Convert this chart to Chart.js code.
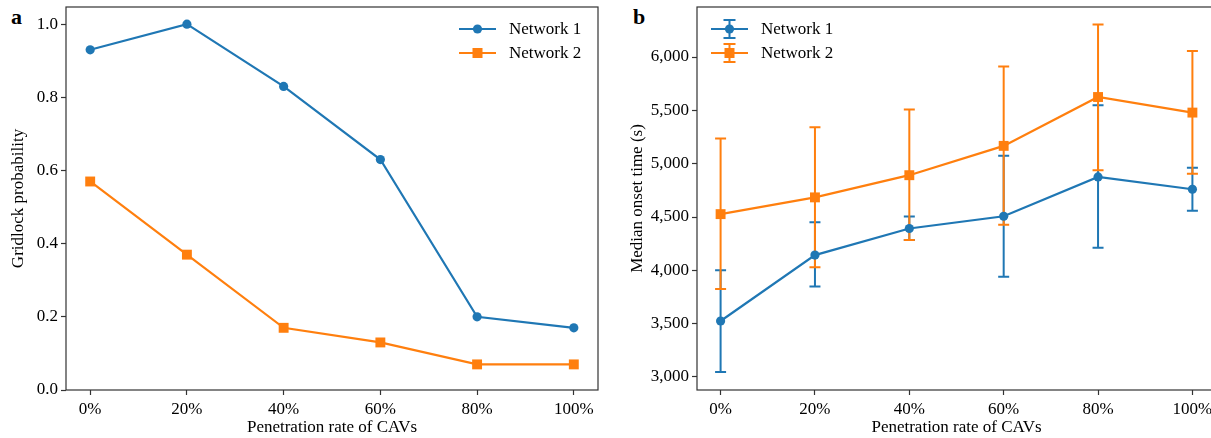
<!DOCTYPE html>
<html>
<head>
<meta charset="utf-8">
<script src="https://cdn.jsdelivr.net/npm/chart.js@4.4.0/dist/chart.umd.min.js"></script>
<style>
html, body { margin: 0; padding: 0; background: #fff; overflow: hidden; width: 1211px; height: 438px; }
.painel { position: absolute; top: 0; height: 438px; }
#painelA { left: 0; width: 610px; }
#painelB { left: 620px; width: 606px; }
.letra { position: absolute; top: 6px; font-family: "Liberation Serif", serif; font-weight: bold; font-size: 22px; line-height: 22px; color: #000; }
</style>
</head>
<body>
<div class="letra" style="left:11px">a</div>
<div class="letra" style="left:633px">b</div>
<div class="painel" id="painelA"><canvas id="graficoA"></canvas></div>
<div class="painel" id="painelB"><canvas id="graficoB"></canvas></div>
<script>
const rotulos = ['0%', '20%', '40%', '60%', '80%', '100%'];
const nomes = ['Network 1', 'Network 2'];

// painel a: probabilidade de gridlock
const probRede1 = [0.93, 1.0, 0.83, 0.63, 0.20, 0.17];
const probRede2 = [0.57, 0.37, 0.17, 0.13, 0.07, 0.07];
const ticksProb = [0, 0.2, 0.4, 0.6, 0.8, 1.0];

// painel b: tempo mediano ate o inicio (s), com barras de erro
const tempoRede1 = [3525, 4143, 4392, 4507, 4876, 4760];
const tempoRede1Min = [3047, 3848, 4284, 3941, 4212, 4558];
const tempoRede1Max = [4000, 4450, 4505, 5075, 5547, 4961];
const tempoRede2 = [4527, 4684, 4892, 5167, 5625, 5479];
const tempoRede2Min = [3826, 4029, 4284, 4428, 4939, 4905];
const tempoRede2Max = [5236, 5341, 5508, 5912, 6305, 6057];
const ticksTempo = [3000, 3500, 4000, 4500, 5000, 5500, 6000];

const azul = '#1f77b4';
const laranja = '#ff7f0e';
const fonte = { family: '"Liberation Serif", serif', size: 17 };

function pontos(valores) {
    return valores.map((v, i) => ({ x: i, y: v }));
}

function marcador(ctx, estilo, x, y, cor) {
    ctx.fillStyle = cor;
    if (estilo === 'circle') {
        ctx.beginPath();
        ctx.arc(x, y, 4.6, 0, Math.PI * 2);
        ctx.fill();
    } else {
        ctx.fillRect(x - 5, y - 5, 10, 10);
    }
}

const moldura = {
    id: 'moldura',
    afterDraw(chart) {
        const a = chart.chartArea;
        const ctx = chart.ctx;
        ctx.save();
        ctx.strokeStyle = '#333';
        ctx.lineWidth = 1.2;
        ctx.strokeRect(a.left, a.top, a.right - a.left, a.bottom - a.top);
        ctx.restore();
    }
};

const barrasErro = {
    id: 'barrasErro',
    beforeDatasetsDraw(chart) {
        const ctx = chart.ctx;
        const sx = chart.scales.x;
        const sy = chart.scales.y;
        ctx.save();
        ctx.lineWidth = 2;
        chart.data.datasets.forEach(ds => {
            if (!ds.erroMin) return;
            ctx.strokeStyle = ds.borderColor;
            ds.erroMin.forEach((lo, i) => {
                const x = sx.getPixelForValue(i);
                const y1 = sy.getPixelForValue(lo);
                const y2 = sy.getPixelForValue(ds.erroMax[i]);
                ctx.beginPath();
                ctx.moveTo(x, y1); ctx.lineTo(x, y2);
                ctx.moveTo(x - 5.5, y1); ctx.lineTo(x + 5.5, y1);
                ctx.moveTo(x - 5.5, y2); ctx.lineTo(x + 5.5, y2);
                ctx.stroke();
            });
        });
        ctx.restore();
    }
};

const legenda = {
    id: 'legenda',
    afterDraw(chart, args, opts) {
        const a = chart.chartArea;
        const ctx = chart.ctx;
        const x0 = opts.lado === 'direita' ? a.right - 139 : a.left + 14;
        ctx.save();
        chart.data.datasets.forEach((ds, k) => {
            const y = a.top + 22 + k * 24;
            const xm = x0 + 18.5;
            if (opts.erro) {
                ctx.strokeStyle = ds.borderColor;
                ctx.lineWidth = 2;
                ctx.beginPath();
                ctx.moveTo(xm, y - 9); ctx.lineTo(xm, y + 9);
                ctx.moveTo(xm - 6, y - 9); ctx.lineTo(xm + 6, y - 9);
                ctx.moveTo(xm - 6, y + 9); ctx.lineTo(xm + 6, y + 9);
                ctx.stroke();
            }
            ctx.strokeStyle = ds.borderColor;
            ctx.lineWidth = 2.2;
            ctx.beginPath();
            ctx.moveTo(x0, y); ctx.lineTo(x0 + 37, y);
            ctx.stroke();
            marcador(ctx, ds.pointStyle, xm, y, ds.borderColor);
            ctx.fillStyle = '#000';
            ctx.font = fonte.size + 'px ' + fonte.family;
            ctx.textBaseline = 'middle';
            ctx.fillText(ds.label, x0 + 50, y + 1);
        });
        ctx.restore();
    }
};

function serie(nome, valores, cor, estilo, ordem, lo, hi) {
    return {
        label: nome,
        data: pontos(valores),
        borderColor: cor,
        backgroundColor: cor,
        borderWidth: 2.2,
        pointStyle: estilo,
        pointRadius: estilo === 'circle' ? 4.6 : 7,
        pointBorderWidth: 0,
        order: ordem,
        erroMin: lo,
        erroMax: hi
    };
}

function opcoes(cfg) {
    return {
        responsive: true,
        maintainAspectRatio: false,
        animation: false,
        events: [],
        layout: { padding: { left: cfg.padLeft, right: cfg.padRight, top: 7, bottom: 0 } },
        plugins: {
            legend: { display: false },
            tooltip: { enabled: false },
            legenda: { lado: cfg.lado, erro: cfg.erro }
        },
        scales: {
            x: {
                type: 'linear',
                min: -0.25,
                max: 5.25,
                afterBuildTicks: s => { s.ticks = rotulos.map((r, i) => ({ value: i })); },
                afterFit: s => { s.height = 48; s.paddingLeft = 0; s.paddingRight = 0; },
                ticks: { font: fonte, color: '#000', padding: 4, maxRotation: 0, autoSkip: false,
                         callback: v => rotulos[v] },
                grid: { drawOnChartArea: false, color: '#333', tickLength: 5, tickWidth: 1.2 },
                border: { display: false },
                title: { display: true, text: 'Penetration rate of CAVs', font: fonte, color: '#000', padding: 0 }
            },
            y: {
                min: cfg.yMin,
                max: cfg.yMax,
                afterBuildTicks: s => { s.ticks = cfg.ticks.map(v => ({ value: v })); },
                afterFit: s => { s.width = cfg.yWidth; s.paddingTop = 0; s.paddingBottom = 0; },
                ticks: { font: fonte, color: '#000', padding: 3, callback: cfg.formato },
                grid: { drawOnChartArea: false, color: '#333', tickLength: 5, tickWidth: 1.2 },
                border: { display: false },
                title: { display: true, text: cfg.titulo, font: fonte, color: '#000', padding: 0 }
            }
        }
    };
}

new Chart(document.getElementById('graficoA').getContext('2d'), {
    type: 'line',
    data: {
        datasets: [
            serie(nomes[0], probRede1, azul, 'circle', 1),
            serie(nomes[1], probRede2, laranja, 'rect', 0)
        ]
    },
    options: opcoes({
        padLeft: 8, padRight: 12, yWidth: 58, lado: 'direita', erro: false,
        yMin: 0, yMax: 1.047, ticks: ticksProb, titulo: 'Gridlock probability',
        formato: v => v.toFixed(1)
    }),
    plugins: [moldura, legenda]
});

new Chart(document.getElementById('graficoB').getContext('2d'), {
    type: 'line',
    data: {
        datasets: [
            serie(nomes[0], tempoRede1, azul, 'circle', 1, tempoRede1Min, tempoRede1Max),
            serie(nomes[1], tempoRede2, laranja, 'rect', 0, tempoRede2Min, tempoRede2Max)
        ]
    },
    options: opcoes({
        padLeft: 7, padRight: 10, yWidth: 70, lado: 'esquerda', erro: true,
        yMin: 2878, yMax: 6469, ticks: ticksTempo, titulo: 'Median onset time (s)',
        formato: v => v.toLocaleString('en-US')
    }),
    plugins: [moldura, barrasErro, legenda]
});
</script>
</body>
</html>
